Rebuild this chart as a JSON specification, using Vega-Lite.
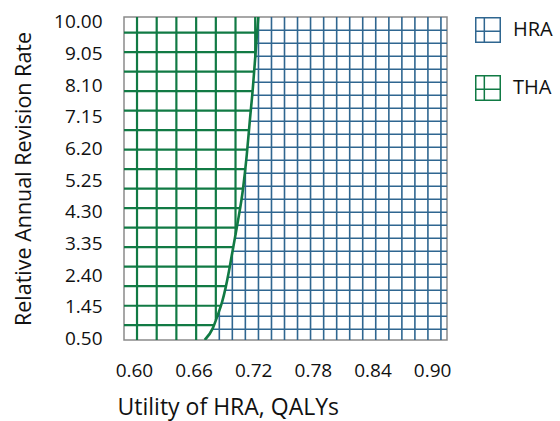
{
  "$schema": "https://vega.github.io/schema/vega-lite/v6.json",
  "width": 323,
  "height": 323,
  "autosize": "none",
  "padding": {"left": 124, "top": 17, "right": 113, "bottom": 81},
  "background": "white",
  "config": {
    "font": "Open Sans",
    "view": {"stroke": "#8a8a8a", "strokeWidth": 1.5},
    "axis": {"labelFont": "Open Sans", "titleFont": "Open Sans", "labelColor": "#111", "titleColor": "#111", "titleFontWeight": "normal", "labelOverlap": false}
  },
  "datasets": {
    "grid": [
      {"group": "THA", "x": 0.6031, "x2": 0.6031, "y": 0.45, "y2": 10.15},
      {"group": "THA", "x": 0.6229, "x2": 0.6229, "y": 0.45, "y2": 10.15},
      {"group": "THA", "x": 0.6427, "x2": 0.6427, "y": 0.45, "y2": 10.15},
      {"group": "THA", "x": 0.6626, "x2": 0.6626, "y": 0.45, "y2": 10.15},
      {"group": "THA", "x": 0.6824, "x2": 0.6824, "y": 1.05, "y2": 10.15},
      {"group": "THA", "x": 0.7022, "x2": 0.7022, "y": 3.62, "y2": 10.15},
      {"group": "THA", "x": 0.722, "x2": 0.722, "y": 8.92, "y2": 10.15},
      {"group": "THA", "x": 0.59, "x2": 0.7239, "y": 9.682, "y2": 9.682},
      {"group": "THA", "x": 0.59, "x2": 0.7224, "y": 9.096, "y2": 9.096},
      {"group": "THA", "x": 0.59, "x2": 0.7209, "y": 8.51, "y2": 8.51},
      {"group": "THA", "x": 0.59, "x2": 0.7194, "y": 7.924, "y2": 7.924},
      {"group": "THA", "x": 0.59, "x2": 0.7175, "y": 7.338, "y2": 7.338},
      {"group": "THA", "x": 0.59, "x2": 0.7158, "y": 6.753, "y2": 6.753},
      {"group": "THA", "x": 0.59, "x2": 0.714, "y": 6.167, "y2": 6.167},
      {"group": "THA", "x": 0.59, "x2": 0.7119, "y": 5.581, "y2": 5.581},
      {"group": "THA", "x": 0.59, "x2": 0.7098, "y": 4.995, "y2": 4.995},
      {"group": "THA", "x": 0.59, "x2": 0.7067, "y": 4.409, "y2": 4.409},
      {"group": "THA", "x": 0.59, "x2": 0.7034, "y": 3.823, "y2": 3.823},
      {"group": "THA", "x": 0.59, "x2": 0.6999, "y": 3.237, "y2": 3.237},
      {"group": "THA", "x": 0.59, "x2": 0.6964, "y": 2.651, "y2": 2.651},
      {"group": "THA", "x": 0.59, "x2": 0.6925, "y": 2.065, "y2": 2.065},
      {"group": "THA", "x": 0.59, "x2": 0.6874, "y": 1.479, "y2": 1.479},
      {"group": "THA", "x": 0.59, "x2": 0.6805, "y": 0.894, "y2": 0.894},
      {"group": "HRA", "x": 0.7241, "x2": 0.915, "y": 9.751, "y2": 9.751},
      {"group": "HRA", "x": 0.7231, "x2": 0.915, "y": 9.361, "y2": 9.361},
      {"group": "HRA", "x": 0.7221, "x2": 0.915, "y": 8.97, "y2": 8.97},
      {"group": "HRA", "x": 0.7211, "x2": 0.915, "y": 8.58, "y2": 8.58},
      {"group": "HRA", "x": 0.7201, "x2": 0.915, "y": 8.19, "y2": 8.19},
      {"group": "HRA", "x": 0.719, "x2": 0.915, "y": 7.799, "y2": 7.799},
      {"group": "HRA", "x": 0.7178, "x2": 0.915, "y": 7.409, "y2": 7.409},
      {"group": "HRA", "x": 0.7166, "x2": 0.915, "y": 7.018, "y2": 7.018},
      {"group": "HRA", "x": 0.7154, "x2": 0.915, "y": 6.628, "y2": 6.628},
      {"group": "HRA", "x": 0.7142, "x2": 0.915, "y": 6.238, "y2": 6.238},
      {"group": "HRA", "x": 0.7129, "x2": 0.915, "y": 5.847, "y2": 5.847},
      {"group": "HRA", "x": 0.7115, "x2": 0.915, "y": 5.457, "y2": 5.457},
      {"group": "HRA", "x": 0.71, "x2": 0.915, "y": 5.066, "y2": 5.066},
      {"group": "HRA", "x": 0.7081, "x2": 0.915, "y": 4.676, "y2": 4.676},
      {"group": "HRA", "x": 0.706, "x2": 0.915, "y": 4.286, "y2": 4.286},
      {"group": "HRA", "x": 0.7039, "x2": 0.915, "y": 3.895, "y2": 3.895},
      {"group": "HRA", "x": 0.7015, "x2": 0.915, "y": 3.505, "y2": 3.505},
      {"group": "HRA", "x": 0.6992, "x2": 0.915, "y": 3.114, "y2": 3.114},
      {"group": "HRA", "x": 0.6968, "x2": 0.915, "y": 2.724, "y2": 2.724},
      {"group": "HRA", "x": 0.6944, "x2": 0.915, "y": 2.334, "y2": 2.334},
      {"group": "HRA", "x": 0.6916, "x2": 0.915, "y": 1.943, "y2": 1.943},
      {"group": "HRA", "x": 0.6883, "x2": 0.915, "y": 1.553, "y2": 1.553},
      {"group": "HRA", "x": 0.6838, "x2": 0.915, "y": 1.162, "y2": 1.162},
      {"group": "HRA", "x": 0.6786, "x2": 0.915, "y": 0.772, "y2": 0.772},
      {"group": "HRA", "x": 0.6859, "x2": 0.6859, "y": 0.45, "y2": 1.34},
      {"group": "HRA", "x": 0.699, "x2": 0.699, "y": 0.45, "y2": 3.08},
      {"group": "HRA", "x": 0.7121, "x2": 0.7121, "y": 0.45, "y2": 5.62},
      {"group": "HRA", "x": 0.7253, "x2": 0.7253, "y": 0.45, "y2": 10.15},
      {"group": "HRA", "x": 0.7384, "x2": 0.7384, "y": 0.45, "y2": 10.15},
      {"group": "HRA", "x": 0.7515, "x2": 0.7515, "y": 0.45, "y2": 10.15},
      {"group": "HRA", "x": 0.7646, "x2": 0.7646, "y": 0.45, "y2": 10.15},
      {"group": "HRA", "x": 0.7777, "x2": 0.7777, "y": 0.45, "y2": 10.15},
      {"group": "HRA", "x": 0.7909, "x2": 0.7909, "y": 0.45, "y2": 10.15},
      {"group": "HRA", "x": 0.804, "x2": 0.804, "y": 0.45, "y2": 10.15},
      {"group": "HRA", "x": 0.8171, "x2": 0.8171, "y": 0.45, "y2": 10.15},
      {"group": "HRA", "x": 0.8302, "x2": 0.8302, "y": 0.45, "y2": 10.15},
      {"group": "HRA", "x": 0.8433, "x2": 0.8433, "y": 0.45, "y2": 10.15},
      {"group": "HRA", "x": 0.8565, "x2": 0.8565, "y": 0.45, "y2": 10.15},
      {"group": "HRA", "x": 0.8696, "x2": 0.8696, "y": 0.45, "y2": 10.15},
      {"group": "HRA", "x": 0.8827, "x2": 0.8827, "y": 0.45, "y2": 10.15},
      {"group": "HRA", "x": 0.8958, "x2": 0.8958, "y": 0.45, "y2": 10.15},
      {"group": "HRA", "x": 0.9089, "x2": 0.9089, "y": 0.45, "y2": 10.15}
    ],
    "curve": [
      {"x": 0.6712, "y": 0.45},
      {"x": 0.6793, "y": 0.8},
      {"x": 0.6843, "y": 1.2},
      {"x": 0.6888, "y": 1.6},
      {"x": 0.6921, "y": 2.0},
      {"x": 0.6955, "y": 2.5},
      {"x": 0.6985, "y": 3.0},
      {"x": 0.7015, "y": 3.5},
      {"x": 0.7045, "y": 4.0},
      {"x": 0.7098, "y": 5.0},
      {"x": 0.7135, "y": 6.0},
      {"x": 0.7165, "y": 7.0},
      {"x": 0.7196, "y": 8.0},
      {"x": 0.7222, "y": 9.0},
      {"x": 0.7251, "y": 10.15}
    ]
  },
  "layer": [
    {
      "data": {"name": "grid"},
      "transform": [{"filter": "datum.group === 'HRA'"}],
      "mark": {"type": "rule", "strokeWidth": 1.6, "clip": true},
      "encoding": {
        "x": {"field": "x", "type": "quantitative", "scale": {"domain": [0.59, 0.915], "nice": false, "zero": false},
          "axis": {"values": [0.6, 0.66, 0.72, 0.78, 0.84, 0.9], "tickCount": 20, "format": ".2f", "grid": false, "ticks": false, "tickSize": 0, "domain": false, "labelFontSize": 19, "labelPadding": 21,
            "title": "Utility of HRA, QALYs", "titleFontSize": 23, "titleAnchor": "start", "titleAlign": "left", "titleBaseline": "alphabetic", "titleX": -7, "titleY": 74}},
        "x2": {"field": "x2"},
        "y": {"field": "y", "type": "quantitative", "scale": {"domain": [0.45, 10.15], "nice": false, "zero": false},
          "axis": {"values": [0.5, 1.45, 2.4, 3.35, 4.3, 5.25, 6.2, 7.15, 8.1, 9.05, 10.0], "tickCount": 20, "format": ".2f", "grid": false, "ticks": false, "tickSize": 0, "domain": false, "labelFontSize": 19, "labelPadding": 22,
            "title": "Relative Annual Revision Rate", "titleFontSize": 21.5, "titleBaseline": "alphabetic", "titleX": -94, "titleY": 161.5}},
        "y2": {"field": "y2"},
        "color": {"field": "group", "type": "nominal",
          "scale": {"domain": ["HRA", "THA"], "range": ["#2f6690", "#117a44"]},
          "legend": {"title": null, "orient": "none", "legendX": 351, "legendY": 0, "padding": 0,
            "symbolType": "M-1,-1H1V1H-1Z M-0.3,-1V1 M-1,0.1H1", "symbolSize": 600, "symbolStrokeWidth": 1.5, "symbolFillColor": "transparent",
            "labelFontSize": 20, "labelFont": "Open Sans", "labelColor": "#111", "labelOffset": 12, "rowPadding": 26}}
      }
    },
    {
      "data": {"name": "grid"},
      "transform": [{"filter": "datum.group === 'THA'"}],
      "mark": {"type": "rule", "strokeWidth": 2.2, "clip": true},
      "encoding": {
        "x": {"field": "x", "type": "quantitative"},
        "x2": {"field": "x2"},
        "y": {"field": "y", "type": "quantitative"},
        "y2": {"field": "y2"},
        "color": {"field": "group", "type": "nominal"}
      }
    },
    {
      "data": {"name": "curve"},
      "mark": {"type": "line", "color": "#117a44", "strokeWidth": 2.6, "interpolate": "monotone", "clip": true},
      "encoding": {
        "x": {"field": "x", "type": "quantitative"},
        "y": {"field": "y", "type": "quantitative"},
        "order": {"field": "y", "type": "quantitative"}
      }
    }
  ]
}
